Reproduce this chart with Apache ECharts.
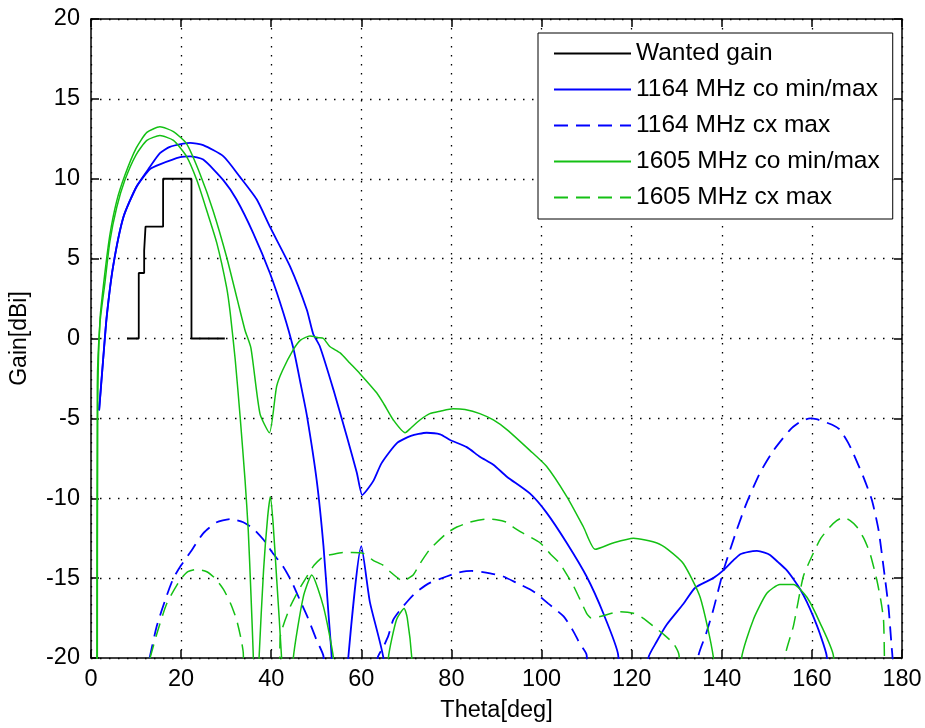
<!DOCTYPE html>
<html>
<head>
<meta charset="utf-8">
<script src="https://cdn.jsdelivr.net/npm/echarts@6/dist/echarts.min.js"></script>
<style>
  html, body { margin: 0; padding: 0; background: #fff; }
  #chart { width: 925px; height: 728px; }
</style>
</head>
<body>
<div id="chart"></div>
<script>
// [theta (deg), gain (dBi)] pairs; values below -20 just run off the axis
const wantedGain = [[8, 0], [10.6, 0], [10.6, 4.1], [11.8, 4.1], [11.8, 5.5], [12.1, 5.5], [12.1, 7],
  [16, 7], [16, 10], [22.3, 10], [22.3, 0], [29.7, 0]];

const co1164Max = [[1.8, -4.5], [2.7, -1.3], [3.5, 1.4], [4.9, 4.5], [7.2, 7.6], [10.1, 9.5], [13.1, 10.75],
  [15.3, 11.6], [17.5, 12.0], [20.5, 12.2], [22, 12.25], [24.9, 12.1], [29.4, 11.4], [33.1, 10.1],
  [36.8, 8.7], [39.7, 7.0], [44.2, 4.5], [47.9, 1.8], [49.3, 0.3], [50.8, -0.5], [53.8, -3.2],
  [56.8, -6.15], [59, -8.4], [60.2, -9.8], [61.2, -9.5], [62.7, -8.9], [64.5, -7.8], [67.9, -6.55],
  [71, -6.1], [74.5, -5.9], [77.5, -6.0], [79.7, -6.35], [83.4, -6.8], [86.3, -7.4], [89.3, -7.9],
  [92.3, -8.65], [97.4, -9.7], [101.1, -10.9], [105.6, -12.8], [110, -14.9], [113.7, -17.2],
  [117, -19.8], [117.3, -23]];

const co1164Min = [[1.8, -4.5], [2.7, -1.3], [3.5, 1.4], [4.9, 4.5], [7.2, 7.6], [10.1, 9.5], [13.1, 10.6],
  [15.3, 10.9], [19.8, 11.35], [22, 11.4], [24.9, 11.2], [29.4, 9.9], [32.3, 8.7], [36, 6.6],
  [39.7, 4.1], [42.7, 1.6], [44.9, -0.6], [46.5, -2.8], [47.9, -4.8], [50.1, -8.9], [51.6, -13],
  [52.7, -17.2], [53.4, -19.9], [53.6, -23], [56.9, -23], [57.1, -20], [60, -13.0], [61.9, -16.5],
  [64.9, -20], [65.2, -23], [123.5, -23], [123.7, -20], [125.5, -19], [127.8, -17.9], [131.5, -16.6],
  [134.1, -15.6], [138.1, -15.0], [140.4, -14.5], [142.5, -13.9], [144.1, -13.5], [146, -13.35],
  [147.8, -13.3], [149.5, -13.4], [150.7, -13.55], [152.5, -14.0], [154.4, -14.5], [156, -15.1],
  [157.4, -15.7], [158.9, -16.5], [160.3, -17.4], [161.8, -18.5], [163.3, -19.9], [163.5, -23]];

const cx1164Max = [[13, -20], [14.6, -18.0], [16.8, -16.1], [18.3, -15], [20, -14.2], [22, -13.4],
  [24.9, -12.2], [27.9, -11.5], [30.9, -11.3], [33.8, -11.5], [36, -11.9], [38.3, -12.6], [40, -13.3],
  [42.7, -14.3], [44.5, -15.2], [46.4, -16.4], [48, -17.4], [50.1, -18.9], [51.6, -19.9], [51.8, -23],
  [63.3, -23], [63.6, -20], [64.9, -19.3], [66, -18.6], [67.1, -17.6], [68.6, -17.0], [70.4, -16.4],
  [72.3, -15.85], [75.2, -15.3], [78.9, -14.9], [81.5, -14.65], [84.5, -14.55], [88.6, -14.7],
  [91.5, -14.9], [94.5, -15.3], [97.4, -15.7], [99, -16.0], [101.5, -16.6], [104.9, -17.4],
  [107, -18.3], [108.5, -19.1], [110, -19.8], [110.3, -23], [134.6, -23], [134.8, -19.9],
  [136.5, -18.5], [138.1, -17], [140.4, -14.5], [143.3, -12], [145.5, -10.3], [148.5, -8.4],
  [151.5, -7.0], [155.2, -5.7], [157.5, -5.2], [159.6, -5.0], [161, -5.05], [162.6, -5.2],
  [164.5, -5.4], [166.2, -5.7], [168, -6.5], [169.2, -7.2], [171.4, -8.65], [173.3, -10.1],
  [174.8, -12], [175.9, -14.3], [177, -16.8], [177.7, -19.3], [177.9, -20], [178, -23]];

const co1605Max = [[1.4, -23], [1.5, -4], [2, 1.2], [3, 3.9], [4.2, 6.5], [5.7, 8.6], [7.5, 10.2],
  [10, 11.9], [12.4, 12.9], [15.3, 13.25], [18.3, 12.95], [21.2, 12.2], [24.2, 10.3], [27.1, 8.0],
  [30.1, 5.1], [32.5, 2.4], [34.2, 0.5], [35.5, -0.6], [37.5, -4.7], [39.6, -5.9], [41.2, -3.0],
  [42.5, -2.0], [44.9, -0.7], [46.5, -0.1], [48.6, 0.15], [50.5, 0.05], [51.6, 0.0], [53, -0.5],
  [55.3, -0.9], [57.5, -1.55], [59.7, -2.2], [63.4, -3.4], [65, -4.1], [67.1, -5.1], [69.7, -5.9],
  [71, -5.6], [73, -5.1], [75.2, -4.7], [77.5, -4.55], [80.4, -4.4], [83, -4.45], [86.3, -4.7],
  [89.3, -5.1], [92.3, -5.7], [97.4, -7.0], [101.1, -8.0], [105.6, -9.9], [109.3, -11.8],
  [111.9, -13.2], [115.9, -12.8], [120.4, -12.5], [125.6, -12.8], [128, -13.2], [131.5, -14.1],
  [135.2, -16.2], [138.1, -19.9], [138.5, -23]];

const co1605Min = [[1.3, -23], [1.4, -3], [2, 1.0], [3.1, 3.5], [4.2, 6.1], [5.7, 8.2], [7.5, 9.9],
  [10, 11.5], [12.4, 12.4], [15.3, 12.7], [18.3, 12.4], [21.2, 11.4], [23.5, 9.9], [25.7, 8.0],
  [27.9, 6.0], [30.1, 3.2], [30.9, 1.6], [32, -1.3], [33.1, -4.9], [34.2, -8.9], [34.9, -12],
  [35.5, -16], [36, -19.7], [36.3, -23], [37, -23], [37.3, -20], [38.3, -14.5], [39.2, -11.2],
  [39.8, -9.9], [40.4, -11.5], [41.2, -15], [42.3, -20], [42.6, -23], [44.7, -23], [44.9, -20],
  [47.1, -16.2], [49, -14.8], [51.6, -16.8], [53.8, -20], [54.1, -23], [65.8, -23], [66, -20],
  [67.8, -17.6], [69.5, -16.9], [70.2, -17.5], [71.2, -20], [71.5, -23], [144.2, -23], [144.4, -20],
  [147, -17.6], [150, -15.95], [152.9, -15.4], [155.9, -15.4], [158.9, -16.2], [161.8, -17.8],
  [164.8, -19.9], [165, -23]];

const cx1605Max = [[13.1, -20], [14.6, -18.5], [16.8, -16.6], [19.8, -15.1], [21.5, -14.6],
  [23.5, -14.45], [25.7, -14.6], [27.5, -15.0], [29.4, -15.7], [31, -16.6], [32.3, -17.6],
  [33.3, -18.8], [33.8, -19.7], [34, -23], [41.8, -23], [42, -18.7], [44.2, -16.8], [46, -15.8],
  [47.9, -14.9], [49.5, -14.2], [51.6, -13.65], [53.8, -13.5], [56, -13.4], [58, -13.4],
  [60.4, -13.45], [62.7, -13.9], [64.9, -14.2], [66.4, -14.6], [68.6, -15.1], [69.5, -15.2],
  [70.5, -15.0], [71.5, -14.8], [73, -14.1], [75.2, -13.2], [78.9, -12.2], [81.2, -11.8],
  [84.1, -11.5], [87.8, -11.3], [90, -11.35], [92.3, -11.5], [93.7, -11.8], [96, -12.2],
  [99.7, -12.8], [102, -13.5], [104.1, -14.1], [107.1, -15.5], [110, -17.2], [111, -17.5],
  [113, -17.4], [117.4, -17.1], [120.4, -17.2], [122.5, -17.5], [124.8, -18], [127, -18.5],
  [129.3, -19.1], [130.5, -19.8], [131, -23], [153.9, -23], [154, -20], [155.9, -18],
  [158.1, -14.9], [160.3, -13.45], [162, -12.5], [164, -11.8], [165.5, -11.4], [167, -11.2],
  [168.5, -11.4], [170, -11.8], [171.5, -12.5], [172.9, -13.45], [174.4, -15.1], [175.3, -16.4],
  [175.9, -17.6], [176.1, -20], [176.2, -23]];

const legendNames = ['Wanted gain', '1164 MHz co min/max', '1164 MHz cx max', '1605 MHz co min/max', '1605 MHz cx max'];

const BLUE = '#0000ff';
const GREEN = '#14c014';
const FONT = '"Liberation Sans", Arial, sans-serif';
const dash = [14, 8];

function curve(name, data, color, width, type, smooth) {
  return {
    name: name,
    type: 'line',
    data: data,
    symbol: 'none',
    smooth: smooth,
    clip: true,
    lineStyle: { color: color, width: width, type: type },
    itemStyle: { color: color },
    emphasis: { disabled: true }
  };
}

const chart = echarts.init(document.getElementById('chart'));

const option = {
  animation: false,
  backgroundColor: '#fff',
  grid: { left: 91, right: 23, top: 19, bottom: 70 },
  legend: {
    data: legendNames,
    orient: 'vertical',
    left: 538,
    top: 33,
    padding: [8, 13, 9, 15],
    itemGap: 11,
    itemWidth: 77,
    itemHeight: 14,
    borderColor: '#000',
    borderWidth: 1,
    backgroundColor: '#fff',
    itemStyle: { opacity: 0 },
    textStyle: { fontFamily: FONT, fontSize: 24.5, color: '#000' }
  },
  xAxis: [{
    type: 'value', min: 0, max: 180, interval: 20,
    name: 'Theta[deg]', nameLocation: 'middle', nameGap: 41,
    nameTextStyle: { fontFamily: FONT, fontSize: 23.5, color: '#000' },
    axisLine: { onZero: false, lineStyle: { color: '#000', width: 1.5 } },
    axisTick: { inside: true, length: 8, lineStyle: { color: '#000', width: 1.5 } },
    axisLabel: { fontFamily: FONT, fontSize: 23.5, color: '#000', margin: 10 },
    splitLine: { show: true, lineStyle: { color: '#000', width: 1.3, type: [1.5, 7.5] } }
  }, {
    type: 'value', min: 0, max: 180, interval: 20, position: 'top',
    axisLine: { onZero: false, lineStyle: { color: '#000', width: 1.5 } },
    axisTick: { inside: true, length: 8, lineStyle: { color: '#000', width: 1.5 } },
    axisLabel: { show: false },
    splitLine: { show: false }
  }],
  yAxis: [{
    type: 'value', min: -20, max: 20, interval: 5,
    name: 'Gain[dBi]', nameLocation: 'middle', nameGap: 60, nameRotate: 90,
    nameTextStyle: { fontFamily: FONT, fontSize: 23, color: '#000' },
    axisLine: { show: true, onZero: false, lineStyle: { color: '#000', width: 1.5 } },
    axisTick: { show: true, inside: true, length: 8, lineStyle: { color: '#000', width: 1.5 } },
    axisLabel: { fontFamily: FONT, fontSize: 23.5, color: '#000', margin: 11 },
    splitLine: { show: true, lineStyle: { color: '#000', width: 1.3, type: [1.5, 7.5] } }
  }, {
    type: 'value', min: -20, max: 20, interval: 5, position: 'right',
    axisLine: { show: true, onZero: false, lineStyle: { color: '#000', width: 1.5 } },
    axisTick: { show: true, inside: true, length: 8, lineStyle: { color: '#000', width: 1.5 } },
    axisLabel: { show: false },
    splitLine: { show: false }
  }],
  series: [
    curve(legendNames[0], wantedGain, '#000', 1.8, 'solid', false),
    curve(legendNames[1], co1164Max, BLUE, 1.8, 'solid', 0.2),
    curve(legendNames[1], co1164Min, BLUE, 1.8, 'solid', 0.2),
    curve(legendNames[2], cx1164Max, BLUE, 1.8, dash, 0.2),
    curve(legendNames[3], co1605Max, GREEN, 1.5, 'solid', 0.2),
    curve(legendNames[3], co1605Min, GREEN, 1.5, 'solid', 0.2),
    curve(legendNames[4], cx1605Max, GREEN, 1.5, dash, 0.2)
  ]
};

chart.setOption(option);
</script>
</body>
</html>
